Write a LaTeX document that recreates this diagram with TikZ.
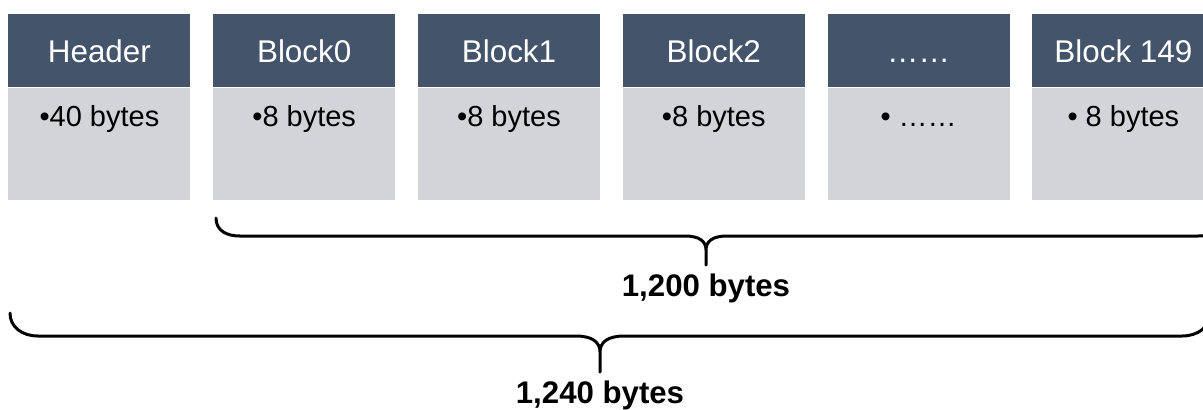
\documentclass[tikz,border=0pt]{standalone}
\usepackage{fontspec}
\setmainfont{Liberation Sans}
\usetikzlibrary{positioning}

\definecolor{hdrblue}{HTML}{44546A}
\definecolor{cellgray}{HTML}{D3D4D8}

\begin{document}
\begin{tikzpicture}[x=0.5pt, y=-0.5pt, node distance=11pt,
        hdr/.style={rectangle, fill=hdrblue, text=white, minimum width=91pt, inner sep=0pt, text height=24pt, text depth=12.5pt, font=\fontsize{15.7}{18}\selectfont},
        cell/.style={rectangle, fill=cellgray, minimum width=91pt, inner sep=0pt, text height=19pt, text depth=37pt, font=\fontsize{14.5}{17}\selectfont},
        brace/.style={draw, line width=1.5pt, line cap=round},
        size/.style={inner sep=0pt, font=\bfseries\fontsize{15.6}{18}\selectfont}]
        \useasboundingbox (0,0) rectangle (1203,409);

        % header row
        \node [hdr, anchor=north west] (h0) at (8,14) {Header};
        \node [hdr, right=of h0] (h1) {Block0};
        \node [hdr, right=of h1] (h2) {Block1};
        \node [hdr, right=of h2] (h3) {Block2};
        \node [hdr, right=of h3] (h4) {……};
        \node [hdr, right=of h4] (h5) {Block 149};

        % sizes
        \node [cell, below=0pt of h0] (c0) {•40 bytes};
        \node [cell, below=0pt of h1] (c1) {•8 bytes};
        \node [cell, below=0pt of h2] (c2) {•8 bytes};
        \node [cell, below=0pt of h3] (c3) {•8 bytes};
        \node [cell, below=0pt of h4] (c4) {• ……};
        \node [cell, below=0pt of h5] (c5) {• 8 bytes};

        % braces
        \coordinate (ul) at (216,218);
        \coordinate (ur) at (1222,218);
        \coordinate (ut) at (706,265);
        \draw [brace] (ul) .. controls +(0,13) and +(-13,0) .. (240,236) -- (685,236) .. controls +(14,0) and +(0,-9) .. (706,250) -- (ut)
            (706,250) .. controls +(0,-9) and +(-14,0) .. (727,236) -- (1198,236) .. controls +(13,0) and +(0,13) .. (ur);
        \node [size, below=4pt of ut] (blocks) {1,200 bytes};

        \coordinate (ll) at (10,313);
        \coordinate (lr) at (1210,313);
        \coordinate (lt) at (600,372);
        \draw [brace] (ll) .. controls +(0,14) and +(-16,0) .. (38,336) -- (576,336) .. controls +(16,0) and +(0,-10) .. (600,352) -- (lt)
            (600,352) .. controls +(0,-10) and +(-16,0) .. (624,336) -- (1182,336) .. controls +(16,0) and +(0,14) .. (lr);
        \node [size, below=4pt of lt] (total) {1,240 bytes};
    \end{tikzpicture}
\end{document}
